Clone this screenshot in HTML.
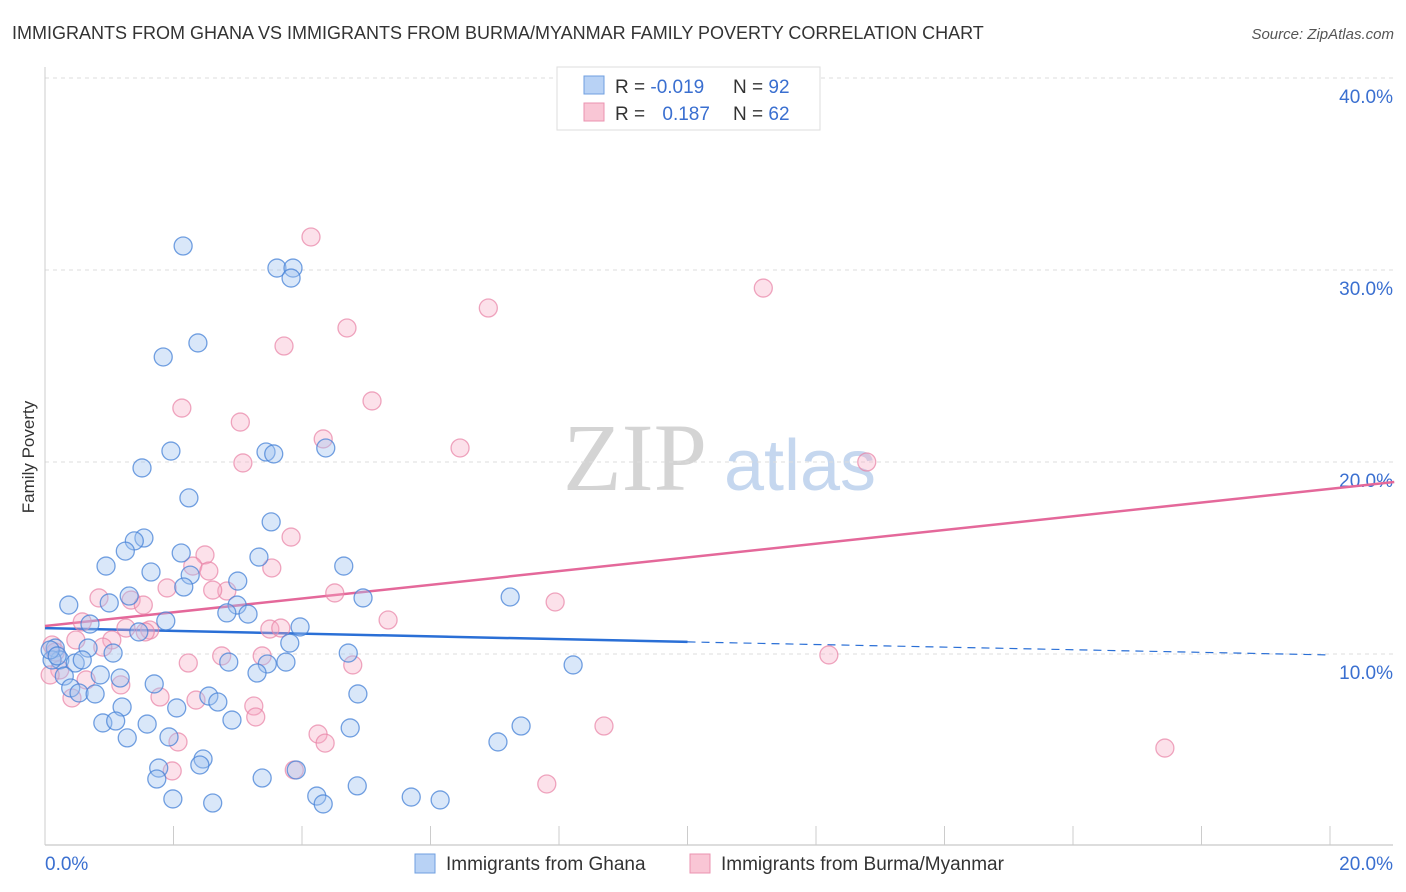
<!DOCTYPE html>
<html><head><meta charset="utf-8"><style>
body{margin:0;background:#fff;font-family:"Liberation Sans",sans-serif;}
svg{display:block}
</style></head><body>
<svg id="chart" width="1406" height="892" xmlns="http://www.w3.org/2000/svg" font-family="Liberation Sans, sans-serif">
<text x="12" y="39" font-size="18" fill="#333">IMMIGRANTS FROM GHANA VS IMMIGRANTS FROM BURMA/MYANMAR FAMILY POVERTY CORRELATION CHART</text>
<text x="1394" y="39" font-size="15" fill="#555" font-style="italic" text-anchor="end">Source: ZipAtlas.com</text>
<text transform="translate(34,457) rotate(-90)" font-size="17" fill="#333" text-anchor="middle">Family Poverty</text>
<g>
<text x="635" y="490" font-size="96" font-family="Liberation Serif, serif" fill="#d4d4d4" text-anchor="middle">ZIP</text>
<text x="800" y="490" font-size="72" fill="#c5d7ef" text-anchor="middle">atlas</text>
</g>
<g id="grid"></g>
<g id="axes"></g>
<g id="trends"></g>
<g id="pts"></g>
<g>
<rect x="557" y="67" width="263" height="63" fill="#fff" stroke="#ddd"/>
<rect x="584" y="76" width="20" height="18" fill="#b8d2f5" stroke="#6f9fe0"/>
<rect x="584" y="103" width="20" height="18" fill="#f9c6d5" stroke="#eb93b0"/>
<text x="615" y="93" font-size="19" fill="#333">R = <tspan fill="#3a6fd0">-0.019</tspan></text>
<text x="733" y="93" font-size="19" fill="#333">N = <tspan fill="#3a6fd0">92</tspan></text>
<text x="615" y="120" font-size="19" fill="#333">R = <tspan fill="#3a6fd0" dx="12">0.187</tspan></text>
<text x="733" y="120" font-size="19" fill="#333">N = <tspan fill="#3a6fd0">62</tspan></text>
</g>
<g>
<rect x="415" y="854" width="20" height="19" fill="#b8d2f5" stroke="#6f9fe0"/>
<text x="446" y="870" font-size="19" fill="#333">Immigrants from Ghana</text>
<rect x="690" y="854" width="20" height="19" fill="#f9c6d5" stroke="#eb93b0"/>
<text x="721" y="870" font-size="19" fill="#333">Immigrants from Burma/Myanmar</text>
</g>
</svg>
<script>
const ghanaX=[2.15,3.61,3.86,3.83,1.84,2.38,1.96,1.51,3.44,3.56,4.37,2.24,3.52,1.54,1.39,1.25,2.12,3.33,0.95,1.65,4.65,2.26,2.16,3.0,1.31,0.37,1.0,2.99,2.83,3.16,4.95,7.24,1.88,0.7,3.97,1.46,1.06,3.81,0.67,4.72,0.16,0.23,0.47,0.58,2.86,3.75,3.46,8.22,0.86,0.3,1.17,3.3,1.7,0.4,0.53,0.78,2.55,4.87,2.69,1.2,2.05,0.9,1.1,1.59,2.91,4.75,7.41,1.28,1.93,2.46,2.41,1.77,1.74,3.38,3.91,4.86,7.05,1.99,2.61,4.23,4.33,5.7,6.15,0.11,0.08,0.19];
const ghanaY=[31.25,30.1,30.1,29.58,25.47,26.2,20.57,19.69,20.52,20.42,20.73,18.13,16.88,16.04,15.89,15.36,15.26,15.05,14.58,14.27,14.58,14.11,13.49,13.8,13.02,12.55,12.66,12.55,12.14,12.08,12.92,12.97,11.72,11.56,11.41,11.15,10.05,10.57,10.31,10.05,10.31,9.69,9.53,9.69,9.58,9.58,9.48,9.43,8.91,8.85,8.75,9.01,8.44,8.23,7.97,7.92,7.81,7.92,7.5,7.24,7.19,6.41,6.51,6.35,6.56,6.15,6.25,5.63,5.68,4.53,4.22,4.06,3.49,3.54,3.96,3.13,5.42,2.45,2.24,2.6,2.19,2.55,2.4,9.69,10.21,9.9];
const burmaX=[4.14,11.18,6.9,4.7,3.72,2.13,5.09,3.04,4.33,6.46,3.08,12.79,3.83,2.49,2.3,2.55,3.53,1.9,0.84,1.34,2.83,2.61,1.53,4.51,7.94,5.34,0.58,1.63,1.26,3.5,3.67,1.04,0.48,0.9,1.56,0.11,0.16,2.75,2.23,3.38,4.79,12.2,0.23,0.64,1.18,0.42,1.79,2.35,3.25,3.28,8.7,4.25,4.36,2.07,1.98,3.88,7.81,17.43,0.08];
const burmaY=[31.72,29.06,28.02,26.98,26.04,22.81,23.18,22.08,21.2,20.73,19.95,20.0,16.09,15.16,14.58,14.32,14.48,13.44,12.92,12.81,13.28,13.33,12.55,13.18,12.71,11.77,11.67,11.25,11.35,11.3,11.35,10.73,10.73,10.36,11.15,10.47,10.1,9.9,9.53,9.9,9.43,9.95,9.17,8.65,8.39,7.71,7.76,7.6,7.29,6.72,6.25,5.83,5.36,5.42,3.91,3.96,3.23,5.1,8.91];
const yTicks=[10,20,30,40];
const yTickLabels=["10.0%","20.0%","30.0%","40.0%"];
const ghanaTrend=[11.35,10.63,9.95]; // at x=0,10,20
const burmaTrend=[11.46,18.96];      // at x=0,21
const NS="http://www.w3.org/2000/svg";
const sx=v=>45+v*64.25, sy=v=>846-v*19.2;
function mk(tag,attrs,parent){const e=document.createElementNS(NS,tag);for(const k in attrs)e.setAttribute(k,attrs[k]);document.getElementById(parent).appendChild(e);return e;}
yTicks.forEach((t,i)=>{
 const g=mk('line',{x1:45,x2:1393,y1:sy(t),y2:sy(t),stroke:'#ddd','stroke-dasharray':'4,4'},'grid');
 
 
 const l=mk('text',{x:1393,y:sy(t)+25,'font-size':19,fill:'#3a6fd0','text-anchor':'end'},'grid');l.textContent=yTickLabels[i];
 
 
});
const ax=mk('line',{x1:45,x2:1393,y1:845,y2:845,stroke:'#bbb'},'axes');


const ay=mk('line',{x1:45,x2:45,y1:67,y2:845,stroke:'#ccc'},'axes');


for(let i=0;i<=10;i++){const t=mk('line',{x1:sx(i*2),x2:sx(i*2),y1:826,y2:845,stroke:'#ccc'},'axes');
 
 }
const x0=mk('text',{x:45,y:870,'font-size':19,fill:'#3a6fd0'},'axes');x0.textContent='0.0%';


const x1=mk('text',{x:1393,y:870,'font-size':19,fill:'#3a6fd0','text-anchor':'end'},'axes');x1.textContent='20.0%';


burmaX.forEach((x,i)=>{const c=mk('circle',{cx:sx(x),cy:sy(burmaY[i]),r:9,fill:'rgba(246,170,195,0.35)',stroke:'rgba(232,130,165,0.7)','stroke-width':1.3},'pts');
 
 });
ghanaX.forEach((x,i)=>{const c=mk('circle',{cx:sx(x),cy:sy(ghanaY[i]),r:9,fill:'rgba(160,195,240,0.4)',stroke:'rgba(70,130,215,0.75)','stroke-width':1.3},'pts');
 
 });
const t1=mk('line',{x1:sx(0),y1:sy(ghanaTrend[0]),x2:sx(10),y2:sy(ghanaTrend[1]),stroke:'#2a6fd6','stroke-width':2.5},'trends');


const t2=mk('line',{x1:sx(10),y1:sy(ghanaTrend[1]),x2:sx(20),y2:sy(ghanaTrend[2]),stroke:'#2a6fd6','stroke-width':1.2,'stroke-dasharray':'8,6'},'trends');


const t3=mk('line',{x1:sx(0),y1:sy(burmaTrend[0]),x2:sx(21),y2:sy(burmaTrend[1]),stroke:'#e4689a','stroke-width':2.5},'trends');


</script>
</body></html>
